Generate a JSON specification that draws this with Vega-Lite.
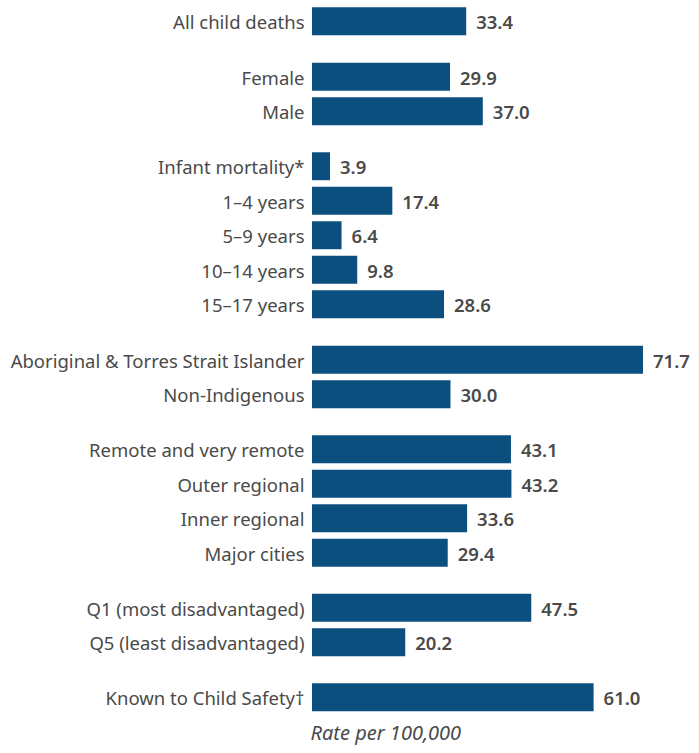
{
  "$schema": "https://vega.github.io/schema/vega-lite/v6.json",
  "background": "white",
  "padding": {"left": 5, "top": 4, "right": 5, "bottom": 5},
  "data": {"values": [
    {"group": 1, "order": 1, "label": "All child deaths", "value": 33.4},
    {"group": 2, "order": 2, "label": "Female", "value": 29.9},
    {"group": 2, "order": 3, "label": "Male", "value": 37.0},
    {"group": 3, "order": 4, "label": "Infant mortality*", "value": 3.9},
    {"group": 3, "order": 5, "label": "1–4 years", "value": 17.4},
    {"group": 3, "order": 6, "label": "5–9 years", "value": 6.4},
    {"group": 3, "order": 7, "label": "10–14 years", "value": 9.8},
    {"group": 3, "order": 8, "label": "15–17 years", "value": 28.6},
    {"group": 4, "order": 9, "label": "Aboriginal & Torres Strait Islander", "value": 71.7},
    {"group": 4, "order": 10, "label": "Non-Indigenous", "value": 30.0},
    {"group": 5, "order": 11, "label": "Remote and very remote", "value": 43.1},
    {"group": 5, "order": 12, "label": "Outer regional", "value": 43.2},
    {"group": 5, "order": 13, "label": "Inner regional", "value": 33.6},
    {"group": 5, "order": 14, "label": "Major cities", "value": 29.4},
    {"group": 6, "order": 15, "label": "Q1 (most disadvantaged)", "value": 47.5},
    {"group": 6, "order": 16, "label": "Q5 (least disadvantaged)", "value": 20.2},
    {"group": 7, "order": 17, "label": "Known to Child Safety†", "value": 61.0}
  ]},
  "facet": {
    "row": {"field": "group", "type": "ordinal", "title": null, "header": {"labels": false, "title": null, "labelPadding": 0, "titlePadding": 0}}
  },
  "spacing": 20.5,
  "resolve": {"scale": {"y": "independent"}},
  "spec": {
    "width": 369.3,
    "height": {"step": 34.5},
    "encoding": {
      "y": {
        "field": "label", "type": "nominal", "sort": {"field": "order"},
        "scale": {"paddingInner": 0.19, "paddingOuter": 0.095},
        "axis": {"title": null, "domain": false, "ticks": false, "labelPadding": 8, "labelFont": "Noto Sans", "labelFontSize": 18.5, "labelColor": "#4a4a4a", "labelOffset": 2, "minExtent": 307, "maxExtent": 307, "labelLimit": 400}
      },
      "x": {
        "field": "value", "type": "quantitative",
        "scale": {"domain": [0, 80], "nice": false},
        "axis": {"title": "Rate per 100,000", "grid": false, "domain": false, "ticks": false, "labels": false, "titleFont": "Noto Sans", "titleFontSize": 20, "titleFontStyle": "italic", "titleFontWeight": "normal", "titleColor": "#4a4a4a", "titleAnchor": "start", "titleAlign": "left", "titlePadding": 8, "titleX": -2}
      }
    },
    "layer": [
      {"mark": {"type": "bar", "color": "#0b4f7f"}},
      {
        "mark": {"type": "text", "align": "left", "baseline": "middle", "dx": 10, "dy": 2, "font": "Noto Sans", "fontSize": 18.5, "fontWeight": 600, "color": "#4a4a4a"},
        "encoding": {"text": {"field": "value", "type": "quantitative", "format": ".1f"}}
      }
    ]
  },
  "config": {"view": {"stroke": null}}
}
